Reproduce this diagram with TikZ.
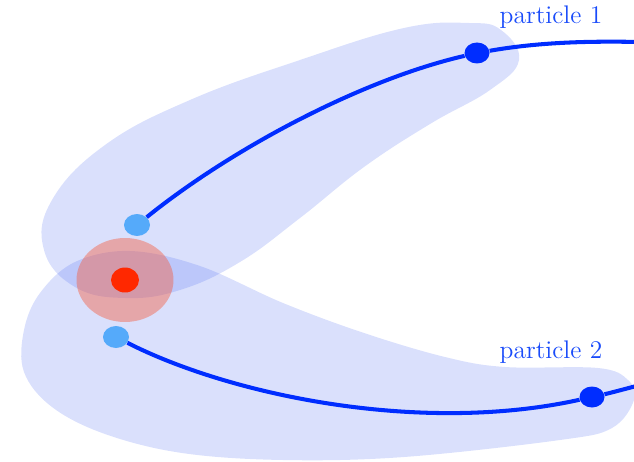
\documentclass[tikz,border=0pt]{standalone}
\usepackage{xcolor}
\usepackage{tikz}
\usetikzlibrary{shapes.geometric}

\definecolor{trackblue}{RGB}{0,45,255}
\definecolor{labelblue}{RGB}{25,75,250}
\definecolor{startblue}{RGB}{85,170,250}
\definecolor{blobblue}{RGB}{70,100,240}
\definecolor{hitred}{RGB}{248,80,47}
\definecolor{corered}{RGB}{255,40,0}

\begin{document}
\begin{tikzpicture}[
  x=0.02cm, y=-0.02cm,
  blob/.style={fill=blobblue, fill opacity=0.2},
  track/.style={draw=trackblue, line width=2.3pt},
  dot/.style={ellipse, inner sep=0pt, minimum width=0.5cm, minimum height=0.42cm, fill=trackblue},
  startdot/.style={ellipse, inner sep=0pt, minimum width=0.52cm, minimum height=0.44cm, fill=startblue},
  lbl/.style={text=labelblue, font=\fontsize{14.5}{16}\selectfont}
]
  \useasboundingbox (0,0) rectangle (634,462);

  % regions of the two particles
  \fill[blob] plot[smooth cycle, tension=0.7] coordinates {
    (469,23) (404,28) (300,60) (190,100) (105,145) (52,200) (44,250)
    (75,287) (125,298) (180,290) (240,262) (300,218) (364,167)
    (430,124) (490,90) (519,60) (501,30)};
  \fill[blob] plot[smooth cycle, tension=0.6] coordinates {
    (40,293) (75,262) (130,251) (200,266) (283,303)
    (364,333) (445,357) (505,367) (598,368) (628,380) (634,400)
    (612,428) (560,440) (404,457) (283,460) (182,453) (105,434)
    (52,407) (24,372) (24,330)};

  % collision point
  \node[ellipse, inner sep=0pt, minimum width=1.94cm, minimum height=1.68cm,
        fill=hitred, fill opacity=0.4] (hit) at (125,280) {};
  \node[ellipse, inner sep=0pt, minimum width=0.56cm, minimum height=0.5cm,
        fill=corered] (core) at (125,280) {};

  % particle tracks
  \node[startdot] (start1) at (137,225) {};
  \node[dot] (p1) at (477,53) {};
  \coordinate (exit1) at (640,42);
  \node[startdot] (start2) at (116,337) {};
  \node[dot] (p2) at (592,397) {};
  \coordinate (exit2) at (640,385);

  \draw[track] (start1) .. controls (230,150) and (360,80) .. (p1);
  \draw[track] (p1) .. controls (540,42) and (590,41) .. (exit1);
  \draw[track] (start2) .. controls (230,395) and (420,435) .. (p2);
  \draw[track] (p2) .. controls (610,393) and (625,389) .. (exit2);

  \node[lbl] (lab1) at (551,17) {particle 1};
  \node[lbl] (lab2) at (551,352) {particle 2};
\end{tikzpicture}
\end{document}
